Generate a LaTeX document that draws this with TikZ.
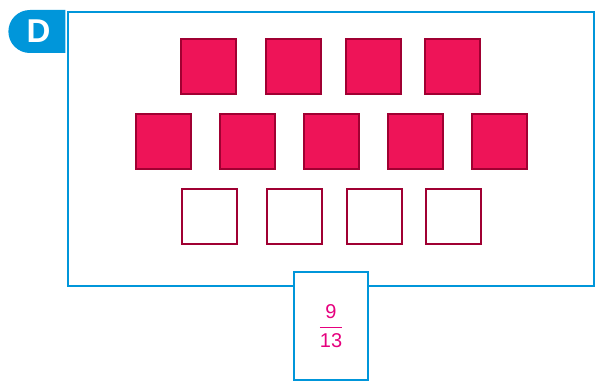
\documentclass[tikz,border=0pt]{standalone}
\usepackage{amsmath}
\usepackage{fontspec}
\setmainfont{Liberation Sans}
\usepackage{tikz}
\usetikzlibrary{shapes.misc}
\definecolor{framblue}{RGB}{0,150,218}
\definecolor{cellred}{RGB}{238,20,88}
\definecolor{celledge}{RGB}{160,0,50}
\definecolor{fracpink}{RGB}{230,0,126}
\tikzset{
  cell/.style={draw=celledge,line width=2pt,minimum size=55pt,inner sep=0pt},
  fullcell/.style={cell,fill=cellred},
  emptycell/.style={cell,fill=white}
}

\begin{document}
\begin{tikzpicture}[x=1pt,y=-1pt]
 \useasboundingbox (0,0) rectangle (597,382);
 % frame and tab
 \node (F) [draw=framblue,line width=2pt,minimum width=526pt,minimum height=274pt,inner sep=0pt] at (331,149) {};
 \node (D) [rounded rectangle,rounded rectangle right arc=none,fill=framblue,text=white,minimum width=57pt,minimum height=43pt,inner sep=0pt,font=\bfseries\fontsize{33}{33}\selectfont] at (38.5,31.5) {D};
 % first row
 \node (X1) [fullcell] at (208.5,66.5) {};
 \node (X2) [fullcell] at (293.5,66.5) {};
 \node (X3) [fullcell] at (373.5,66.5) {};
 \node (X4) [fullcell] at (452.5,66.5) {};
 % second row
 \node (Y1) [fullcell] at (163.5,141.5) {};
 \node (Y2) [fullcell] at (247.5,141.5) {};
 \node (Y3) [fullcell] at (331.5,141.5) {};
 \node (Y4) [fullcell] at (415.5,141.5) {};
 \node (Y5) [fullcell] at (499.5,141.5) {};
 % third row
 \node (Z1) [emptycell] at (209,217) {};
 \node (Z2) [emptycell] at (294,217) {};
 \node (Z3) [emptycell] at (374,217) {};
 \node (Z4) [emptycell] at (453,217) {};
 % answer box
 \node (A) [draw=framblue,fill=white,line width=2pt,minimum width=74pt,minimum height=108pt,inner sep=0pt,text=fracpink,font=\fontsize{20}{20}\selectfont] at (331,326) {$\color{fracpink}\dfrac{\text{9}}{\text{13}}$};
\end{tikzpicture}
\end{document}
